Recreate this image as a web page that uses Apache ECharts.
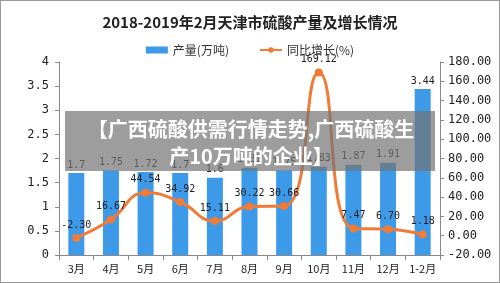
<!DOCTYPE html>
<html>
<head>
<meta charset="utf-8">
<script src="https://cdn.jsdelivr.net/npm/echarts@6/dist/echarts.min.js"></script>
<style>
html, body { margin: 0; padding: 0; background: #fff; }
#chart { width: 500px; height: 283px; box-sizing: border-box; border: 1px solid #9a9a9a; }
</style>
</head>
<body>
<div id="chart"></div>
<script>
var categories = ['3月', '4月', '5月', '6月', '7月', '8月', '9月', '10月', '11月', '12月', '1-2月'];
var output = [1.7, 1.75, 1.72, 1.7, 1.6, 1.81, 1.75, 1.83, 1.87, 1.91, 3.44];
var outputLabels = ['1.7', '1.75', '1.72', '1.7', '1.6', '1.81', '1.75', '1.83', '1.87', '1.91', '3.44'];
var growth = [-2.30, 16.67, 44.54, 34.92, 15.11, 30.22, 30.66, 169.12, 7.47, 6.70, 1.18];
var leftTicks = ['0', '0.5', '1', '1.5', '2', '2.5', '3', '3.5', '4'];

var font = '"DejaVu Sans Mono", monospace';
var cjk = '"Noto Sans CJK SC", sans-serif';
var chart = echarts.init(document.getElementById('chart'));

chart.setOption({
    animation: false,
    title: {
        text: '2018-2019年2月天津市硫酸产量及增长情况',
        left: 'center',
        top: 9,
        textStyle: { fontSize: 15, fontWeight: 'bold', color: '#222', fontFamily: cjk }
    },
    legend: {
        top: 38,
        left: 'center',
        itemGap: 30,
        itemWidth: 22,
        itemHeight: 7,
        textStyle: { fontSize: 12, color: '#333', fontFamily: cjk },
        data: [
            { name: '产量(万吨)', icon: 'rect' },
            { name: '同比增长(%)' }
        ]
    },
    grid: { left: 58, right: 59, top: 61, bottom: 27 },
    xAxis: {
        type: 'category',
        data: categories,
        axisLine: { lineStyle: { color: '#888' } },
        axisTick: { show: true, length: 5, lineStyle: { color: '#888' } },
        axisLabel: { interval: 0, color: '#222', fontSize: 11, margin: 8, fontFamily: cjk }
    },
    yAxis: [
        {
            type: 'value', min: 0, max: 4, interval: 0.5,
            splitLine: { show: false },
            axisLine: { show: true, lineStyle: { color: '#888' } },
            axisTick: { show: true, length: 4, lineStyle: { color: '#888' } },
            axisLabel: {
                color: '#222', fontSize: 12, margin: 10, fontFamily: font,
                formatter: function (v) { return leftTicks[Math.round(v / 0.5)]; }
            }
        },
        {
            type: 'value', min: -20, max: 180, interval: 20,
            splitLine: { show: false },
            axisLine: { show: true, lineStyle: { color: '#888' } },
            axisTick: { show: true, length: 4, lineStyle: { color: '#888' } },
            axisLabel: {
                color: '#222', fontSize: 12, margin: 8, fontFamily: font,
                formatter: function (v) { return v.toFixed(2); }
            }
        }
    ],
    series: [
        {
            name: '产量(万吨)',
            type: 'bar',
            barWidth: 16,
            data: output,
            itemStyle: { color: '#3d9ae8' },
            label: {
                show: true, position: 'top', distance: 3,
                fontSize: 10, color: '#222', fontFamily: font,
                formatter: function (p) { return outputLabels[p.dataIndex]; }
            },
            z: 2
        },
        {
            name: '同比增长(%)',
            type: 'line',
            yAxisIndex: 1,
            smooth: true,
            data: growth,
            symbol: 'circle',
            symbolSize: 8,
            itemStyle: { color: '#f07b37' },
            lineStyle: { color: '#f07b37', width: 3 },
            label: {
                show: true, position: 'top', distance: 4,
                fontSize: 10, color: '#222', fontFamily: font,
                formatter: function (p) { return p.value.toFixed(2); }
            },
            z: 3
        }
    ],
    graphic: [
        {
            type: 'rect',
            shape: { x: 64, y: 110, width: 370, height: 60 },
            style: { fill: 'rgba(115,115,115,0.7)' },
            z: 100
        },
        {
            type: 'text',
            x: 250, y: 128,
            style: {
                text: '【广西硫酸供需行情走势,广西硫酸生',
                fill: '#fff', fontSize: 20, fontWeight: 'bold',
                fontFamily: cjk,
                align: 'center', verticalAlign: 'middle'
            },
            z: 101
        },
        {
            type: 'text',
            x: 250, y: 155,
            style: {
                text: '产10万吨的企业】',
                fill: '#fff', fontSize: 20, fontWeight: 'bold',
                fontFamily: cjk,
                align: 'center', verticalAlign: 'middle'
            },
            z: 101
        }
    ]
});
</script>
</body>
</html>
